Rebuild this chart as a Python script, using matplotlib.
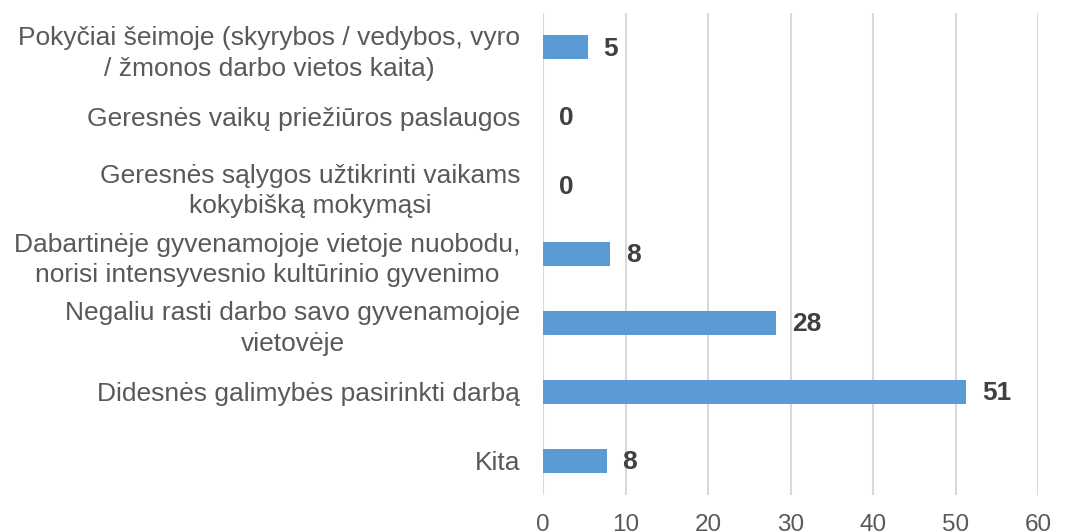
import matplotlib
matplotlib.use('Agg')
import matplotlib.pyplot as plt
from matplotlib.transforms import offset_copy

# -----------------------------------------------------------------------
# Data (top to bottom as shown)
# -----------------------------------------------------------------------
categories = [
    "Pokyčiai šeimoje (skyrybos / vedybos, vyro\n/ žmonos darbo vietos kaita)",
    "Geresnės vaikų priežiūros paslaugos",
    "Geresnės sąlygos užtikrinti vaikams\nkokybišką mokymąsi",
    "Dabartinėje gyvenamojoje vietoje nuobodu,\nnorisi intensyvesnio kultūrinio gyvenimo",
    "Negaliu rasti darbo savo gyvenamojoje\nvietovėje",
    "Didesnės galimybės pasirinkti darbą",
    "Kita",
]
values = [5.4, 0, 0, 8.1, 28.2, 51.3, 7.7]
x_ticks = [0, 10, 20, 30, 40, 50, 60]

BAR_COLOR   = "#5B9BD5"
TEXT_COLOR  = "#595959"
LABEL_COLOR = "#404040"
GRID_COLOR  = "#D9D9D9"

plt.rcParams['font.family'] = ['Liberation Sans', 'DejaVu Sans']

fig = plt.figure(figsize=(10.85, 5.31), dpi=100)
ax = fig.add_axes([0.5005, 0.0678, 0.4562, 0.9077])

ypos = list(range(len(categories)))[::-1]
ax.barh(ypos, values, height=0.35, color=BAR_COLOR, zorder=2)

ax.set_xlim(0, 60)
ax.set_ylim(-0.5, len(categories) - 0.5)
ax.set_xticks(x_ticks)
ax.set_xticklabels([str(t) for t in x_ticks])
ax.set_yticks(ypos)
ax.set_yticklabels(categories)
for lbl in ax.get_yticklabels():
    lbl.set_multialignment('center')
    lbl.set_linespacing(1.36)

ax.tick_params(axis='y', length=0, pad=16.5, labelsize=19, labelcolor=TEXT_COLOR)
ax.tick_params(axis='x', length=0, pad=14, labelsize=17.5, labelcolor=TEXT_COLOR)

ax.grid(axis='x', color=GRID_COLOR, linewidth=1.5, zorder=0)
for s in ax.spines.values():
    s.set_visible(False)

# data labels
for y, v in zip(ypos, values):
    trans = offset_copy(ax.transData, fig=fig, x=11.5, y=-1, units='points')
    ax.text(v, y, f"{v:.0f}", transform=trans, ha='left', va='center',
            fontsize=19, fontweight='bold', color=LABEL_COLOR)

plt.savefig("out.png", dpi=100)
plt.close()
